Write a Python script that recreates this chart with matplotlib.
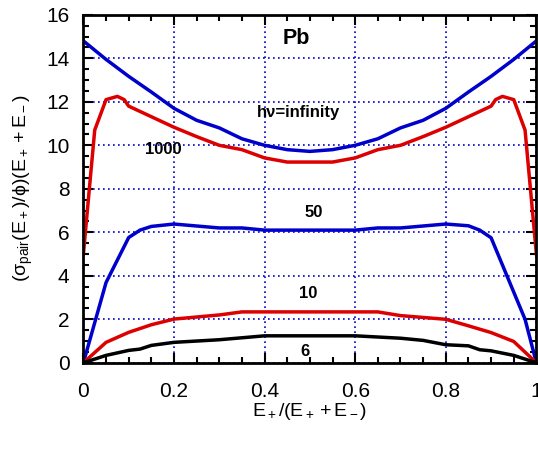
import matplotlib.pyplot as plt
import numpy as np
from matplotlib.ticker import MultipleLocator

plt.rcParams['font.family'] = ['Liberation Sans', 'DejaVu Sans']
plt.rcParams['mathtext.fontset'] = 'custom'
plt.rcParams['mathtext.rm'] = 'Liberation Sans'
plt.rcParams['mathtext.it'] = 'Liberation Sans'
plt.rcParams['mathtext.sf'] = 'Liberation Sans'

# hv = infinity
x_inf = [0, 0.05, 0.1, 0.15, 0.2, 0.25, 0.3, 0.35, 0.4, 0.45, 0.5,
         0.55, 0.6, 0.65, 0.7, 0.75, 0.8, 0.85, 0.9, 0.95, 1.0]
y_inf = [14.8, 13.95, 13.17, 12.45, 11.7, 11.15, 10.8, 10.3, 10.0, 9.8, 9.72,
         9.8, 10.0, 10.3, 10.8, 11.15, 11.7, 12.45, 13.17, 13.95, 14.8]

# hv = 1000
x_1000 = [0, 0.025, 0.05, 0.075, 0.09, 0.1, 0.2, 0.25, 0.3, 0.35, 0.4, 0.45, 0.5,
          0.55, 0.6, 0.65, 0.7, 0.75, 0.8, 0.9, 0.91, 0.925, 0.95, 0.975, 1.0]
y_1000 = [5.0, 10.7, 12.1, 12.25, 12.1, 11.8, 10.83, 10.4, 10.0, 9.8, 9.42, 9.23, 9.23,
          9.23, 9.42, 9.8, 10.0, 10.4, 10.83, 11.8, 12.1, 12.25, 12.1, 10.7, 5.0]

# hv = 50
x_50 = [0, 0.05, 0.1, 0.125, 0.15, 0.2, 0.3, 0.35, 0.4, 0.6, 0.65, 0.7,
        0.8, 0.85, 0.875, 0.9, 0.975, 1.0]
y_50 = [0, 3.69, 5.76, 6.1, 6.27, 6.38, 6.2, 6.2, 6.1, 6.1, 6.2, 6.2,
        6.38, 6.3, 6.1, 5.75, 2.0, 0]

# hv = 10
x_10 = [0, 0.05, 0.1, 0.15, 0.2, 0.3, 0.35, 0.65, 0.7, 0.8, 0.85, 0.9, 0.95, 1.0]
y_10 = [0, 0.94, 1.4, 1.75, 2.01, 2.2, 2.34, 2.34, 2.17, 2.0, 1.7, 1.39, 0.98, 0]

# hv = 6
x_6 = [0, 0.05, 0.1, 0.125, 0.15, 0.2, 0.3, 0.4, 0.6, 0.7, 0.75, 0.8, 0.85,
       0.875, 0.9, 0.95, 1.0]
y_6 = [0, 0.34, 0.57, 0.63, 0.8, 0.94, 1.06, 1.24, 1.24, 1.13, 1.03, 0.83, 0.78,
       0.6, 0.55, 0.34, 0]

blue = '#0000cc'
red = '#dd0000'

fig = plt.figure(figsize=(5.38, 4.49), dpi=100)
ax = fig.add_axes([0.155, 0.192, 0.842, 0.775])

ax.plot(x_inf, y_inf, color=blue, lw=2.5)
ax.plot(x_1000, y_1000, color=red, lw=2.5)
ax.plot(x_50, y_50, color=blue, lw=2.5)
ax.plot(x_10, y_10, color=red, lw=2.5)
ax.plot(x_6, y_6, color='black', lw=2.5)

# curve labels
ax.text(0.47, 14.9, 'Pb', fontsize=15.5, fontweight='bold', ha='center', va='center')
ax.text(0.475, 11.5, 'hν=infinity', fontsize=12, fontweight='bold', ha='center', va='center')
ax.text(0.176, 9.8, '1000', fontsize=12, fontweight='bold', ha='center', va='center')
ax.text(0.509, 6.92, '50', fontsize=12, fontweight='bold', ha='center', va='center')
ax.text(0.497, 3.2, '10', fontsize=12, fontweight='bold', ha='center', va='center')
ax.text(0.49, 0.5, '6', fontsize=12, fontweight='bold', ha='center', va='center')

ax.set_xlim(0, 1)
ax.set_ylim(0, 16)
ax.xaxis.set_major_locator(MultipleLocator(0.2))
ax.xaxis.set_minor_locator(MultipleLocator(0.05))
ax.yaxis.set_major_locator(MultipleLocator(2))
ax.yaxis.set_minor_locator(MultipleLocator(0.5))
ax.xaxis.set_major_formatter(plt.FuncFormatter(lambda v, p: '%g' % round(v, 2)))

ax.tick_params(which='both', direction='in', top=True, right=True, width=1.5)
ax.tick_params(which='major', length=7, labelsize=15)
ax.tick_params(which='minor', length=4)
ax.tick_params(axis='x', which='major', pad=14)
ax.tick_params(axis='y', which='major', pad=10)
for s in ax.spines.values():
    s.set_linewidth(2)

ax.grid(True, which='major', color=blue, linestyle=(0, (1, 2)), linewidth=1.2)

ax.set_xlabel(r'$E_+/(E_+ + E_-)$', fontsize=14, labelpad=0)
ax.set_ylabel(r'$(\sigma_{pair}(E_+)/\phi)(E_+ + E_-)$', fontsize=14, labelpad=8)

fig.savefig('out.png', dpi=100)
